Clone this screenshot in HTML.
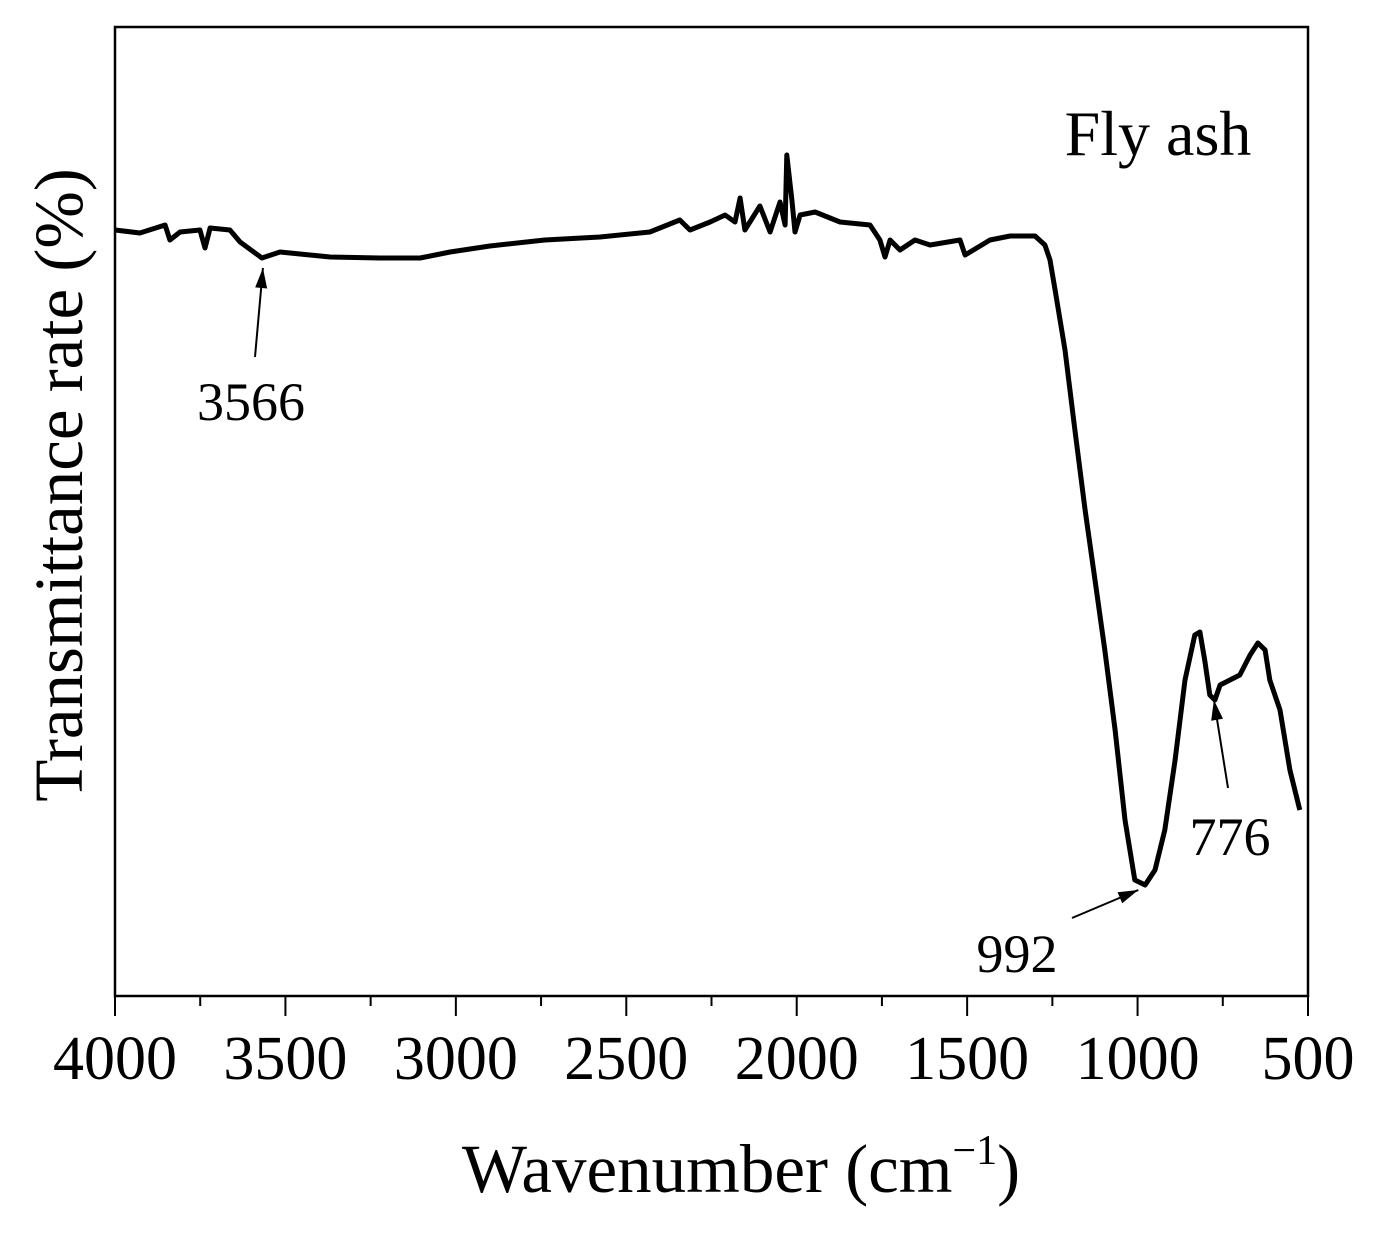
<!DOCTYPE html>
<html><head><meta charset="utf-8"><style>
body{margin:0;background:#fff}
svg{display:block}
text{font-family:"Liberation Serif",serif;fill:#000}
</style></head><body>
<svg id="chart" width="1375" height="1233">
<rect x="115" y="27" width="1193" height="969" fill="none" stroke="#000" stroke-width="2.5"/>
<g id="ticks"></g>
<path id="line" fill="none" stroke="#000" stroke-width="5" stroke-linejoin="round"/>
<text x="1158" y="155" font-size="64" text-anchor="middle">Fly ash</text>
<text x="741" y="1192" font-size="69" text-anchor="middle">Wavenumber (cm<tspan dy="-28" font-size="42">−1</tspan><tspan dy="28">)</tspan></text>
<text transform="translate(82,485) rotate(-90)" font-size="69" text-anchor="middle">Transmittance rate (%)</text>
<g id="annots"></g>
</svg>
<script>
const wavenumbers=[4000,3927,3853,3839,3809,3751,3736,3721,3663,3633,3569,3516,3369,3223,3105,3017,2900,2739,2577,2431,2343,2313,2254,2210,2181,2166,2152,2108,2078,2049,2034,2029,2014,2005,1990,1946,1873,1785,1756,1741,1726,1697,1653,1609,1521,1506,1433,1374,1301,1272,1257,1242,1213,1184,1154,1125,1096,1066,1037,1008,978,949,920,890,861,832,817,803,788,773,758,700,670,647,626,612,582,553,524];
const transmittance=[766,763,771,756,764,766,748,768,766,754,738,744,739,738,738,744,750,756,759,764,776,766,774,781,774,798,766,790,764,794,771,841,796,764,781,784,774,771,756,739,756,746,756,751,756,741,756,760,760,751,736,706,646,566,486,416,346,266,176,116,111,126,166,236,316,361,364,336,301,296,311,321,341,353,346,316,286,226,186];
const xTicks=[4000,3500,3000,2500,2000,1500,1000,500];
const xMinor=[3750,3250,2750,2250,1750,1250,750];
const annotations=[{w:3566,label:"3566"},{w:992,label:"992"},{w:776,label:"776"}];
const NS="http://www.w3.org/2000/svg";
const X=w=>115+(4000-w)/3500*1193;
const Y=v=>996-v;
let d="";
wavenumbers.forEach((w,i)=>{d+=(i?"L":"M")+X(w).toFixed(1)+","+Y(transmittance[i]).toFixed(1);});
document.getElementById("line").setAttribute("d",d);
const tg=document.getElementById("ticks");
xTicks.forEach(t=>{
 const l=document.createElementNS(NS,"line");
 l.setAttribute("x1",X(t));l.setAttribute("x2",X(t));l.setAttribute("y1",996);l.setAttribute("y2",1016);
 l.setAttribute("stroke","#000");l.setAttribute("stroke-width","2");
 
 
 tg.appendChild(l);
 const tx=document.createElementNS(NS,"text");
 tx.setAttribute("x",X(t));tx.setAttribute("y",1079);tx.setAttribute("font-size","62");tx.setAttribute("text-anchor","middle");
 tx.textContent=t;
 
 
 tg.appendChild(tx);
});
xMinor.forEach(t=>{
 const l=document.createElementNS(NS,"line");
 l.setAttribute("x1",X(t));l.setAttribute("x2",X(t));l.setAttribute("y1",996);l.setAttribute("y2",1006);
 l.setAttribute("stroke","#000");l.setAttribute("stroke-width","2");
 
 
 tg.appendChild(l);
});
const ag=document.getElementById("annots");
function arrow(x1,y1,x2,y2,name){
 const g=document.createElementNS(NS,"g");
 
 
 const l=document.createElementNS(NS,"line");
 l.setAttribute("x1",x1);l.setAttribute("y1",y1);l.setAttribute("x2",x2);l.setAttribute("y2",y2);
 l.setAttribute("stroke","#000");l.setAttribute("stroke-width","2");g.appendChild(l);
 const a=Math.atan2(y2-y1,x2-x1),L=20,Wd=6;
 const bx=x2-L*Math.cos(a),by=y2-L*Math.sin(a);
 const p=document.createElementNS(NS,"polygon");
 p.setAttribute("points",`${x2},${y2} ${bx+Wd*Math.sin(a)},${by-Wd*Math.cos(a)} ${bx-Wd*Math.sin(a)},${by+Wd*Math.cos(a)}`);
 g.appendChild(p);ag.appendChild(g);
}
function label(x,y,t){
 const tx=document.createElementNS(NS,"text");
 tx.setAttribute("x",x);tx.setAttribute("y",y);tx.setAttribute("font-size","54");tx.setAttribute("text-anchor","middle");
 tx.textContent=t;
 
 
 ag.appendChild(tx);
}
arrow(255,357,X(3566),268,"arrow-3566");label(251,420,annotations[0].label);
arrow(1072,918,X(992)-2,890,"arrow-992");label(1017,972,annotations[1].label);
arrow(1228,788,X(776),700,"arrow-776");label(1230,855,annotations[2].label);
</script>
</body></html>
